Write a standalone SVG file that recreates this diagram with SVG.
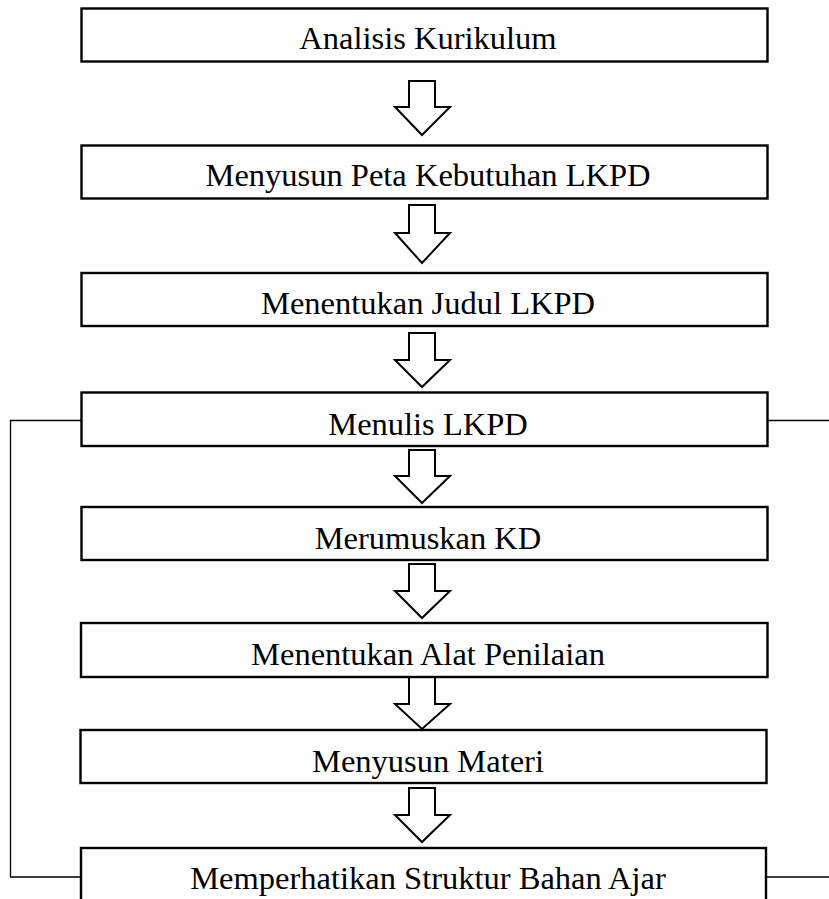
<svg xmlns="http://www.w3.org/2000/svg" width="829" height="899" viewBox="0 0 829 899">
<style>
.box{fill:#fff;stroke:#000;stroke-width:2.4}
.arr{fill:#fff;stroke:#000;stroke-width:2;stroke-linejoin:miter}
.lbl{font-family:"Liberation Serif","Times New Roman",serif;font-size:32.5px;fill:#000;text-anchor:middle}
.conn{fill:none;stroke:#000;stroke-width:1.3}
</style>
<rect width="829" height="899" fill="#fff"/>
<g id="connectors">
<path class="conn" d="M82,420.5 H10.5 V877 H82"/>
<path class="conn" d="M767,420.5 H829"/>
<path class="conn" d="M766,877 H829"/>
<path class="arr" d="M409,81 V107 H395 L422,135 L450,107 H435 V81 Z"/>
<path class="arr" d="M409,205 V233 H395 L422,263 L450,233 H435 V205 Z"/>
<path class="arr" d="M409,333 V360 H395 L422,387 L450,360 H435 V333 Z"/>
<path class="arr" d="M409,450 V476 H395 L422,503 L450,476 H435 V450 Z"/>
<path class="arr" d="M409,564 V591 H395 L422,618 L450,591 H435 V564 Z"/>
<path class="arr" d="M409,677 V704 H395 L422,729 L450,704 H435 V677 Z"/>
<path class="arr" d="M409,788 V815 H395 L422,842 L450,815 H435 V788 Z"/>
</g>
<g id="n1"><rect class="box" x="81.5" y="8.5" width="686" height="53"/><text class="lbl" x="428" y="49">Analisis Kurikulum</text></g>
<g id="n2"><rect class="box" x="81.5" y="145.5" width="686" height="53"/><text class="lbl" x="428" y="186">Menyusun Peta Kebutuhan LKPD</text></g>
<g id="n3"><rect class="box" x="81.5" y="273" width="686" height="53"/><text class="lbl" x="428" y="314">Menentukan Judul LKPD</text></g>
<g id="n4"><rect class="box" x="81.5" y="392.5" width="686" height="53.5"/><text class="lbl" x="428" y="435">Menulis LKPD</text></g>
<g id="n5"><rect class="box" x="81.5" y="507" width="686" height="53"/><text class="lbl" x="428" y="549">Merumuskan KD</text></g>
<g id="n6"><rect class="box" x="81" y="623" width="686.5" height="54"/><text class="lbl" x="428" y="665">Menentukan Alat Penilaian</text></g>
<g id="n7"><rect class="box" x="80.5" y="730" width="686" height="53"/><text class="lbl" x="428" y="772">Menyusun Materi</text></g>
<g id="n8"><rect class="box" x="81" y="848" width="685" height="60"/><text class="lbl" x="428" y="889">Memperhatikan Struktur Bahan Ajar</text></g>
</svg>
